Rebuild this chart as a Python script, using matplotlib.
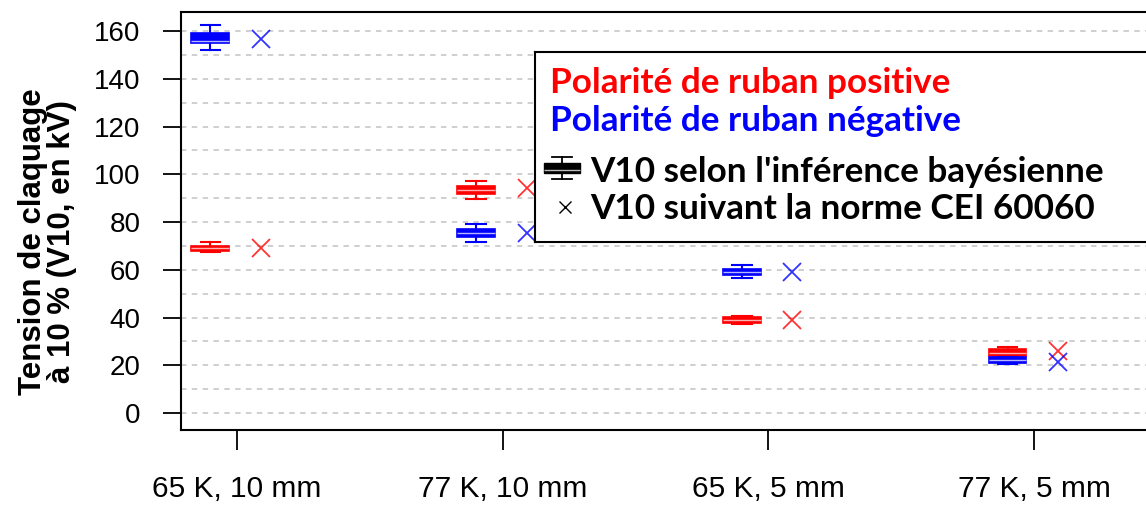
import matplotlib
matplotlib.use("Agg")
import matplotlib.pyplot as plt

# conditions on the x axis
conditions = ["65 K, 10 mm", "77 K, 10 mm", "65 K, 5 mm", "77 K, 5 mm"]

# Bayesian V10 estimates (whisker low, q1, median, q3, whisker high) in kV
pos_whislo = [67.5, 89.6, 37.5, 23.9]
pos_q1 = [67.7, 91.7, 37.6, 24.0]
pos_med = [69.0, 93.4, 38.8, 25.3]
pos_q3 = [70.0, 95.1, 40.3, 26.8]
pos_whishi = [71.5, 97.2, 40.6, 27.5]

neg_whislo = [151.9, 71.8, 56.7, 20.7]
neg_q1 = [154.9, 73.8, 57.8, 20.8]
neg_med = [156.0, 75.4, 59.1, 22.2]
neg_q3 = [159.0, 77.1, 60.3, 23.3]
neg_whishi = [162.4, 79.2, 62.0, 23.4]

# V10 from the IEC 60060 standard
pos_cei = [69.0, 94.1, 39.0, 26.0]
neg_cei = [156.6, 75.5, 59.2, 21.5]

RED = "#ff0000"
BLUE = "#0000ff"
TICK_FONT = "Liberation Sans"
LEG_FONT = ["Lato", "DejaVu Sans"]


def box_stats(lo, q1, med, q3, hi):
    return [dict(whislo=a, q1=b, med=c, q3=d, whishi=e, fliers=[])
            for a, b, c, d, e in zip(lo, q1, med, q3, hi)]


def draw_boxes(ax, stats, pos, color, median_color, width, capwidth):
    ax.bxp(stats, positions=pos, widths=width, capwidths=capwidth,
           patch_artist=True, showfliers=False, manage_ticks=False,
           boxprops=dict(facecolor=color, edgecolor=color, linewidth=1.2),
           medianprops=dict(color=median_color, linewidth=1.0),
           whiskerprops=dict(color=color, linewidth=1.5),
           capprops=dict(color=color, linewidth=1.5))


fig = plt.figure(figsize=(11.46, 5.05), dpi=100)
ax = fig.add_axes([181 / 1146, 1 - 430 / 505, (1160 - 181) / 1146, (430 - 12) / 505])

x = list(range(len(conditions)))
box_x = [i - 0.10 for i in x]
cei_x = [i + 0.09 for i in x]

draw_boxes(ax, box_stats(pos_whislo, pos_q1, pos_med, pos_q3, pos_whishi),
           box_x, RED, "#ffb0b0", 0.143, 0.075)
draw_boxes(ax, box_stats(neg_whislo, neg_q1, neg_med, neg_q3, neg_whishi),
           box_x, BLUE, "#b8b8ff", 0.143, 0.075)

ax.plot(cei_x, pos_cei, ls="none", marker="x", ms=13, mew=1.3, color=RED, alpha=0.8)
ax.plot(cei_x, neg_cei, ls="none", marker="x", ms=13, mew=1.3, color=BLUE, alpha=0.8)

ax.set_xlim(-0.211, 3.474)
ax.set_ylim(-7.1, 168)
ax.set_xticks(x)
ax.set_xticklabels(conditions, fontsize=21.5, family=TICK_FONT)
ax.set_yticks(range(0, 161, 20))
ax.set_yticklabels([str(v) for v in range(0, 161, 20)], fontsize=20, family=TICK_FONT)
ax.tick_params(axis="x", direction="out", length=14.5, width=1.3, pad=18)
ax.tick_params(axis="y", direction="out", length=13, width=1.3, pad=16)

for v in range(0, 161, 10):
    ax.axhline(v, color="#cccccc", lw=1.3, ls=(0, (3, 3)), zorder=0)

for side in ["left", "bottom", "top"]:
    ax.spines[side].set_linewidth(1.5)
ax.spines["right"].set_visible(False)

ax.set_ylabel("Tension de claquage\nà 10 % (V10, en kV)", fontsize=22.5,
              fontweight="bold", family=TICK_FONT, linespacing=0.95)
ax.yaxis.set_label_coords(-0.106, 0.45)

# legend panel
leg = fig.add_axes([535 / 1146, 1 - 242 / 505, (1160 - 535) / 1146, (242 - 52) / 505])
leg.set_xticks([])
leg.set_yticks([])
for s in leg.spines.values():
    s.set_linewidth(1.5)

leg.text(0.024, 0.838, "Polarité de ruban positive", color=RED, fontsize=25.3,
         fontweight="bold", family=LEG_FONT, va="center")
leg.text(0.024, 0.636, "Polarité de ruban négative", color=BLUE, fontsize=25.3,
         fontweight="bold", family=LEG_FONT, va="center")
leg.text(0.088, 0.37, "V10 selon l'inférence bayésienne", color="black", fontsize=25.3,
         fontweight="bold", family=LEG_FONT, va="center")
leg.text(0.088, 0.175, "V10 suivant la norme CEI 60060", color="black", fontsize=25.3,
         fontweight="bold", family=LEG_FONT, va="center")

leg.bxp([dict(whislo=0.33, q1=0.365, med=0.38, q3=0.415, whishi=0.45, fliers=[])],
        positions=[0.0432], widths=0.059, capwidths=0.032, patch_artist=True,
        showfliers=False, manage_ticks=False,
        boxprops=dict(facecolor="black", edgecolor="black"),
        medianprops=dict(color="#bbbbbb", linewidth=1.0),
        whiskerprops=dict(color="black", linewidth=1.3),
        capprops=dict(color="black", linewidth=1.3))
leg.plot([0.048], [0.185], ls="none", marker="x", ms=9, mew=1.0, color="black")
leg.set_xlim(0, 1)
leg.set_ylim(0, 1)

fig.savefig("out.png", dpi=100)
